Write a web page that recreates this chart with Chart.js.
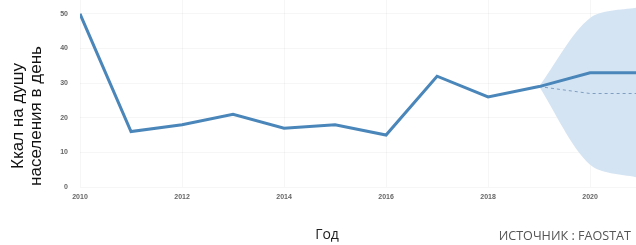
<!DOCTYPE html>
<html>
<head>
<meta charset="utf-8">
<script src="https://cdn.jsdelivr.net/npm/chart.js@4"></script>
<style>
  body { margin: 0; background: #fff; }
  #wrap { position: relative; width: 636px; height: 245px; }
</style>
</head>
<body>
<div id="wrap"><canvas id="kcalChart"></canvas></div>
<script>
const years = [2010, 2011, 2012, 2013, 2014, 2015, 2016, 2017, 2018, 2019, 2020, 2021];
const kcal = [50, 16, 18, 21, 17, 18, 15, 32, 26, 29, 33, 33];
const forecastYears = [2019, 2020, 2021];
const forecastMid = [29, 27, 27];
const forecastUpper = [29, 48.8, 52];
const forecastLower = [29, 6.4, 2.5];
const yTicks = [0, 10, 20, 30, 40, 50];
const xTicks = [2010, 2012, 2014, 2016, 2018, 2020];

const toPoints = (xs, ys) => xs.map((x, i) => ({ x: x, y: ys[i] }));

// axis titles and source note drawn on the canvas
const textPlugin = {
    id: 'texts',
    afterDraw(chart) {
        const ctx = chart.ctx;
        ctx.save();
        ctx.fillStyle = '#111';
        ctx.font = '17px "Liberation Sans", Arial, sans-serif';
        ctx.textAlign = 'center';
        ctx.textBaseline = 'middle';
        ctx.translate(27, 116);
        ctx.rotate(-Math.PI / 2);
        ctx.fillText('Ккал на душу', 0, -9);
        ctx.fillText('населения в день', 0, 9);
        ctx.restore();

        ctx.save();
        ctx.fillStyle = '#222';
        ctx.font = '14px "Open Sans", sans-serif';
        ctx.textAlign = 'center';
        ctx.textBaseline = 'middle';
        ctx.fillText('Год', 327, 235);
        ctx.fillStyle = '#555';
        ctx.font = '12.6px "Open Sans", sans-serif';
        ctx.textAlign = 'right';
        ctx.fillText('ИСТОЧНИК : FAOSTAT', 631, 236);
        ctx.restore();
    }
};

const ctx = document.getElementById('kcalChart').getContext('2d');
const kcalChart = new Chart(ctx, {
    type: 'line',
    data: {
        datasets: [{
            data: toPoints(years, kcal),
            borderColor: '#4a86b9',
            borderWidth: 3,
            pointRadius: 0,
            fill: false,
            order: 0
        }, {
            data: toPoints(forecastYears, forecastMid),
            borderColor: '#7f9fc2',
            borderWidth: 1,
            borderDash: [3, 3],
            pointRadius: 0,
            fill: false,
            order: 1
        }, {
            data: toPoints(forecastYears, forecastUpper),
            borderWidth: 0,
            pointRadius: 0,
            backgroundColor: '#d5e4f3',
            fill: '+1',
            tension: 0.3,
            order: 2
        }, {
            data: toPoints(forecastYears, forecastLower),
            borderWidth: 0,
            pointRadius: 0,
            fill: false,
            tension: 0.3,
            order: 3
        }]
    },
    options: {
        responsive: true,
        maintainAspectRatio: false,
        animation: false,
        layout: { padding: 0 },
        plugins: {
            legend: { display: false },
            tooltip: { enabled: false }
        },
        scales: {
            x: {
                type: 'linear',
                min: 2010,
                max: 2020.9,
                afterFit(scale) {
                    scale.height = 58;
                    scale.paddingLeft = 0;
                    scale.paddingRight = 0;
                },
                afterBuildTicks(scale) { scale.ticks = xTicks.map(v => ({ value: v })); },
                grid: { color: 'rgba(0,0,0,0.035)', drawTicks: false },
                border: { display: false },
                ticks: {
                    padding: 6,
                    color: '#666',
                    font: { family: '"Liberation Sans", Arial', size: 7, weight: 'bold' },
                    callback: v => String(v)
                }
            },
            y: {
                min: 0,
                max: 54,
                afterFit(scale) {
                    scale.width = 80;
                    scale.paddingTop = 0;
                    scale.paddingBottom = 0;
                },
                afterBuildTicks(scale) { scale.ticks = yTicks.map(v => ({ value: v })); },
                grid: { color: 'rgba(0,0,0,0.035)', drawTicks: false },
                border: { display: false },
                ticks: {
                    padding: 12,
                    color: '#666',
                    font: { family: '"Liberation Sans", Arial', size: 7, weight: 'bold' }
                }
            }
        }
    },
    plugins: [textPlugin]
});
</script>
</body>
</html>
